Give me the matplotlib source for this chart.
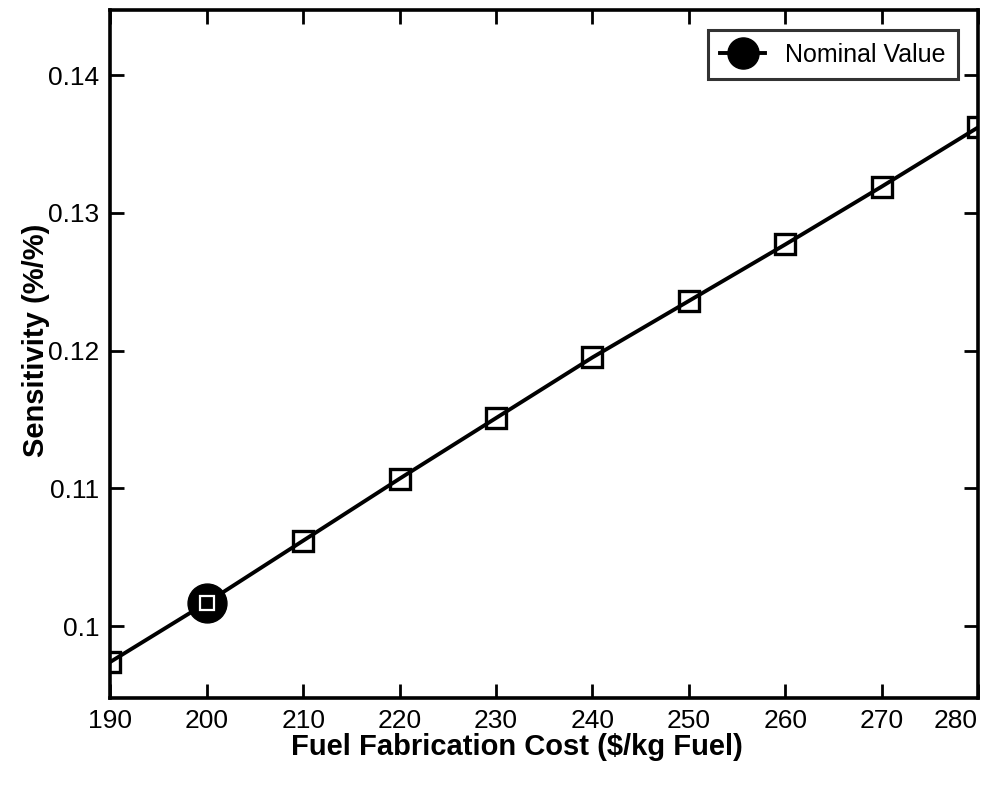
import matplotlib.pyplot as plt
import numpy as np

plt.rcParams['font.family'] = ['Liberation Sans', 'DejaVu Sans']

# fabrication cost ($/kg fuel) and sensitivity (%/%)
cost = [190, 200, 210, 220, 230, 240, 250, 260, 270, 280]
sensitivity = [0.0974, 0.1017, 0.1062, 0.1107, 0.1151, 0.1195, 0.1236, 0.1277, 0.1319, 0.1362]
nominal_cost = [200]
nominal_sens = [0.1017]
xticks = [190, 200, 210, 220, 230, 240, 250, 260, 270, 280]
yticks = [0.10, 0.11, 0.12, 0.13, 0.14]
ytick_labels = ['0.1', '0.11', '0.12', '0.13', '0.14']

fig = plt.figure(figsize=(9.95, 7.91), dpi=100)
ax = fig.add_axes([0.111, 0.118, 0.872, 0.869])

ax.plot(cost, sensitivity, color='k', lw=2.8, marker='s', ms=14,
        mfc='none', mec='k', mew=2.4, zorder=3)
ax.plot(nominal_cost, nominal_sens, color='k', lw=2.8, marker='o', ms=28,
        mfc='k', mec='k', label='Nominal Value', zorder=4)
# square marker showing through the nominal point
ax.plot(nominal_cost, nominal_sens, ls='none', marker='s', ms=10,
        mfc='none', mec='white', mew=1.6, zorder=5)

ax.set_xlim(190, 280)
ax.set_ylim(0.0948, 0.1447)
ax.set_xticks(xticks)
ax.set_yticks(yticks)
ax.set_yticklabels(ytick_labels)
ax.tick_params(direction='in', top=True, right=True, length=10, width=2,
               labelsize=19, pad=8)
ax.get_xticklabels()[-1].set_horizontalalignment('right')
for s in ax.spines.values():
    s.set_linewidth(2.6)

ax.set_xlabel('Fuel Fabrication Cost ($/kg Fuel)', fontsize=21, fontweight='bold')
ax.set_ylabel('Sensitivity (%/%)', fontsize=21, fontweight='bold')
ax.xaxis.set_label_coords(0.469, -0.052)
ax.yaxis.set_label_coords(-0.07, 0.52)

leg = ax.legend(loc='upper right', fontsize=18, frameon=True, fancybox=False,
                edgecolor='k', borderpad=0.5, handlelength=1.8, markerscale=0.8,
                borderaxespad=0.8)
leg.get_frame().set_linewidth(2.2)

fig.savefig('out.png', dpi=100)
